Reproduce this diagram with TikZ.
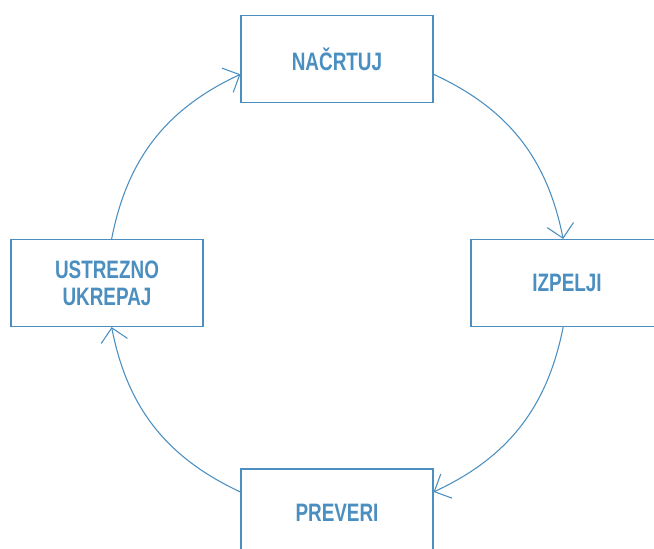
\documentclass[tikz,border=0pt]{standalone}
\usepackage{fontspec}
\usetikzlibrary{arrows.meta}
\newfontfamily\boxfont[FakeStretch=0.75]{Liberation Sans}
\definecolor{kreisblau}{RGB}{74,143,192}

\begin{document}
\begin{tikzpicture}
		[x=0.75pt, y=-0.75pt,
		schritt/.style={draw=kreisblau, line width=0.9pt, fill=white,
			minimum width=144pt, minimum height=65.25pt, inner sep=0pt,
			align=center, text=kreisblau,
			font=\boxfont\bfseries\fontsize{18.9}{20}\selectfont},
		pfeil/.style={draw=kreisblau, line width=0.8pt,
			-{Straight Barb[length=10pt, width=20pt]}, bend left=27},
		]

		\useasboundingbox (0,0) rectangle (654,549);
		\clip (0,0) rectangle (654,549);

		\node[schritt] (nacrtuj) at (337,59) {NAČRTUJ};
		\node[schritt] (izpelji) at (567,283) {IZPELJI};
		\node[schritt] (preveri) at (337,512.5) {PREVERI};
		\node[schritt] (ukrepaj) at (107,283) {USTREZNO\\UKREPAJ};

		% Kreislauf im Uhrzeigersinn
		\draw[pfeil] (nacrtuj.-9) to (izpelji.95);
		\draw[pfeil] (izpelji.-95) to (preveri.12);
		\draw[pfeil] (preveri.168) to (ukrepaj.-84);
		\draw[pfeil] (ukrepaj.84) to (nacrtuj.189);
	\end{tikzpicture}
\end{document}
